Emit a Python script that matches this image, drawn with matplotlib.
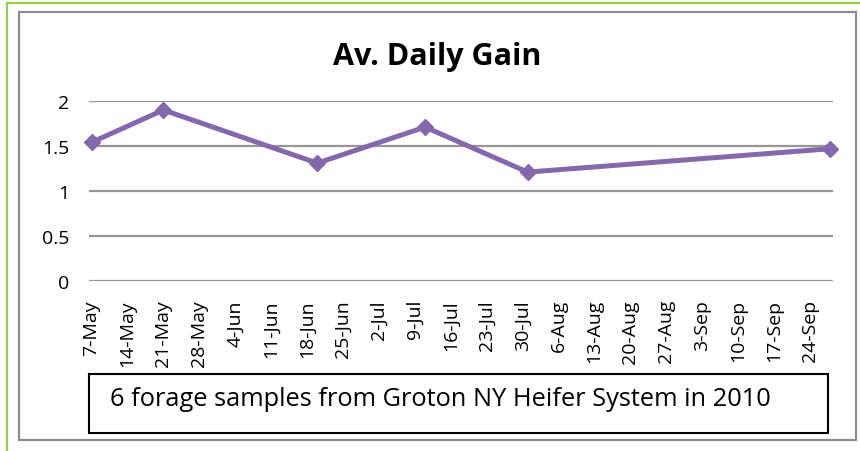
import matplotlib
matplotlib.use("Agg")
import matplotlib.pyplot as plt
import numpy as np
import pandas as pd
from matplotlib.patches import Rectangle

# ---- data ----
sample_dates = ["2010-05-07", "2010-05-21", "2010-06-20", "2010-07-11", "2010-07-31", "2010-09-28"]
adg_values = [1.54, 1.90, 1.31, 1.71, 1.21, 1.47]
tick_labels = ["7-May", "14-May", "21-May", "28-May", "4-Jun", "11-Jun", "18-Jun", "25-Jun",
               "2-Jul", "9-Jul", "16-Jul", "23-Jul", "30-Jul", "6-Aug", "13-Aug", "20-Aug",
               "27-Aug", "3-Sep", "10-Sep", "17-Sep", "24-Sep"]
y_ticks = [0, 0.5, 1, 1.5, 2]
y_tick_labels = ["0", "0.5", "1", "1.5", "2"]
title = "Av. Daily Gain"
note = "6 forage samples from Groton NY Heifer System in 2010"

FONT = ["Open Sans", "DejaVu Sans"]
W, H = 860, 452
fig = plt.figure(figsize=(W / 100, H / 100), dpi=100)
fig.patch.set_facecolor("white")

def fx(px):
    return px / W

def fy(py):
    return 1 - py / H

# outer green border and gray chart border (figure coordinates)
fig.patches.append(Rectangle((fx(7), fy(470)), fx(880 - 7), fy(4) - fy(470),
                             transform=fig.transFigure, fill=False,
                             edgecolor="#92d050", linewidth=1.6, zorder=0))
fig.patches.append(Rectangle((fx(19), fy(441)), fx(856 - 19), fy(13) - fy(441),
                             transform=fig.transFigure, fill=False,
                             edgecolor="#8c8c8c", linewidth=1.6, zorder=0))

ax = fig.add_axes([fx(89), fy(282), fx(833) - fx(89), fy(102) - fy(282)])
ax.set_facecolor("none")

x = pd.to_datetime(sample_dates)
half = pd.Timedelta(hours=12)
ax.set_xlim(x[0] - half, x[-1] + half)
ax.set_ylim(0, 2)

ax.plot(x, adg_values, color="#8568ac", linewidth=3.6, marker="D",
        markersize=8, markeredgecolor="#8568ac", solid_joinstyle="round",
        zorder=3, clip_on=False)

tick_pos = pd.date_range(x[0], periods=len(tick_labels), freq="7D")
ax.set_xticks(tick_pos)
ax.set_xticklabels(tick_labels, rotation=90, fontsize=14, family=FONT)
ax.set_yticks(y_ticks)
ax.set_yticklabels(y_tick_labels, fontsize=14, family=FONT)
ax.tick_params(axis="both", length=0, colors="black")
ax.tick_params(axis="x", pad=13)
ax.tick_params(axis="y", pad=14)
ax.yaxis.grid(True, color="#969696", linewidth=1.6)
ax.set_axisbelow(True)
for s in ax.spines.values():
    s.set_visible(False)

fig.text(fx(437), fy(57), title, ha="center", va="center", fontsize=22,
         fontweight="bold", family=FONT)

fig.patches.append(Rectangle((fx(89), fy(434)), fx(828 - 89), fy(375) - fy(434),
                             transform=fig.transFigure, fill=True, facecolor="white",
                             edgecolor="black", linewidth=1.5, zorder=1))
fig.text(fx(110), fy(400), note, ha="left", va="center", fontsize=18.3, family=FONT)

fig.savefig("out.png", dpi=100)
